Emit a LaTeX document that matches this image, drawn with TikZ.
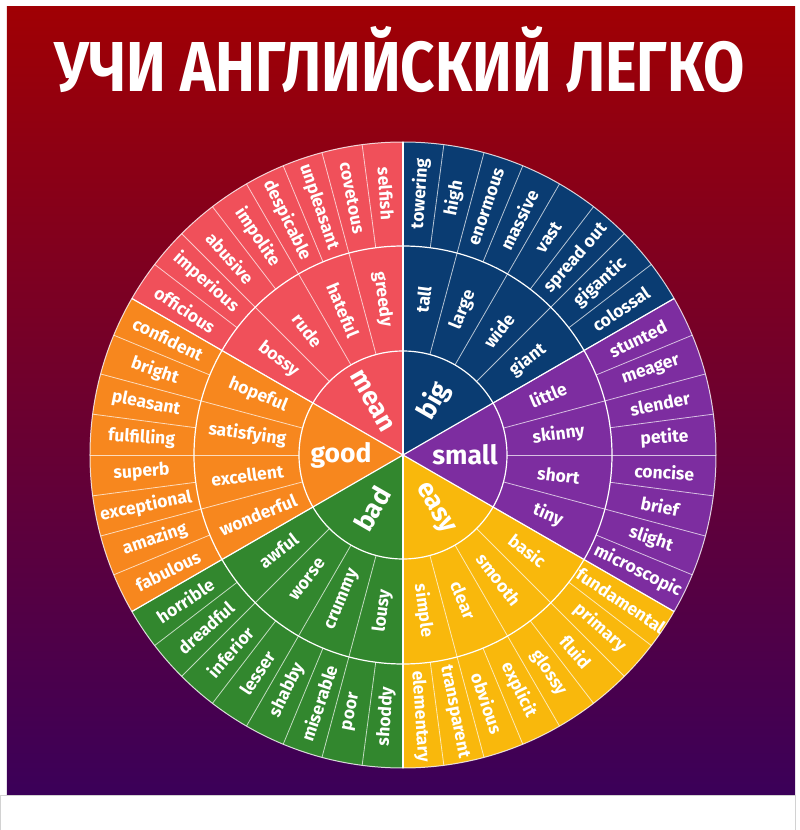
\documentclass[tikz,border=0pt]{standalone}
\usepackage{fontspec}
\usepackage{graphicx}
\setmainfont{Fira Sans}

\definecolor{bgtop}{HTML}{A00004}
\definecolor{bgbottom}{HTML}{3B0059}
\definecolor{meanred}{HTML}{F0505A}
\definecolor{bignavy}{HTML}{0A3C72}
\definecolor{smallpurple}{HTML}{7D2DA0}
\definecolor{easyyellow}{HTML}{F9B80C}
\definecolor{badgreen}{HTML}{32872E}
\definecolor{goodorange}{HTML}{F7871E}

\begin{document}
\begin{tikzpicture}[x=1pt, y=1pt,
    wedge/.style={draw=white, line width=1.2pt},
    divider/.style={draw=white, draw opacity=0.7, line width=0.8pt},
    word/.style={text=white, font=\fontsize{17.5}{17.5}\selectfont\bfseries, inner sep=0pt},
    hubword/.style={text=white, font=\fontsize{26.5}{26.5}\selectfont\bfseries, inner sep=0pt},
    titletext/.style={text=white, font=\fontsize{71}{71}\selectfont\bfseries, inner sep=0pt, anchor=base}
]
\useasboundingbox (-403,-375) rectangle (397,455);

% Background
\fill[white] (-403,-375) rectangle (397,455);
\shade[top color=bgtop, bottom color=bgbottom] (-396,448) rectangle (392,-340);
\draw[gray!35, line width=0.6pt] (-402.5,-340) rectangle (392,-376);

% Title
\node[titletext] (title) at (-3,363) {\resizebox{690pt}{49pt}{\raisebox{0pt}[\fontcharht\font`\H][0pt]{УЧИ АНГЛИЙСКИЙ ЛЕГКО}}};

% Sectors
\foreach \s/\col in {90/meanred, 30/bignavy, -30/smallpurple, -90/easyyellow, 210/badgreen, 150/goodorange}
    \fill[\col] (0,0) -- (\s:313) arc[start angle=\s, delta angle=60, radius=313] -- cycle;

% Dividers, rings and sector borders
\foreach \k in {0,...,47}
    \draw[divider] ({30+7.5*\k}:209) -- ({30+7.5*\k}:313);
\foreach \k in {0,...,23}
    \draw[divider] ({30+15*\k}:104) -- ({30+15*\k}:209);
\foreach \a in {30,90,...,330}
    \draw[wedge] (0,0) -- (\a:313);
\draw[wedge] (0,0) circle[radius=104];
\draw[wedge] (0,0) circle[radius=209];
\draw[draw=white, draw opacity=0.8, line width=1pt] (0,0) circle[radius=313];

% Words
\foreach \nm/\s/\fl/\inner/\outer in {
    mean/90/180/{greedy,hateful,rude,bossy}/{selfish,covetous,unpleasant,despicable,impolite,abusive,imperious,officious},
    big/30/0/{giant,wide,large,tall}/{colossal,gigantic,spread out,vast,massive,enormous,high,towering},
    small/-30/0/{tiny,short,skinny,little}/{microscopic,slight,brief,concise,petite,slender,meager,stunted},
    easy/-90/0/{simple,clear,smooth,basic}/{elementary,transparent,obvious,explicit,glossy,fluid,primary,fundamental},
    bad/210/180/{awful,worse,crummy,lousy}/{horrible,dreadful,inferior,lesser,shabby,miserable,poor,shoddy},
    good/150/180/{hopeful,satisfying,excellent,wonderful}/{confident,bright,pleasant,fulfilling,superb,exceptional,amazing,fabulous}%
}{
    % hub
    \pgfmathsetmacro\ang{\s+30}
    \node[hubword, rotate=\ang-\fl] (\nm-hub) at (\ang:62) {\nm};
    % inner ring
    \foreach \w [count=\i] in \inner {
        \pgfmathsetmacro\ang{\s+15*\i-7.5}
        \node[word, rotate=\ang-\fl] (\nm-in\i) at (\ang:157) {\w};
    }
    % outer ring
    \foreach \w [count=\i] in \outer {
        \pgfmathsetmacro\ang{\s+7.5*\i-3.75}
        \node[word, rotate=\ang-\fl] (\nm-out\i) at (\ang:262) {\w};
    }
}

\end{tikzpicture}
\end{document}
